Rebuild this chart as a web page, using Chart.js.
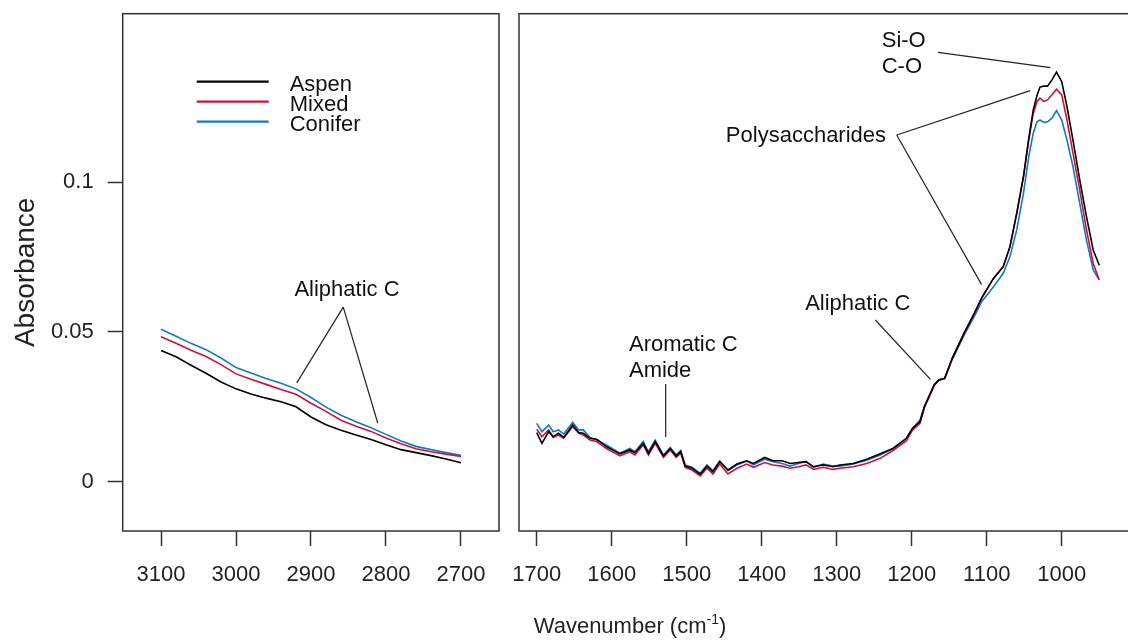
<!DOCTYPE html>
<html>
<head>
<meta charset="utf-8">
<script src="https://cdn.jsdelivr.net/npm/chart.js@4.4.1/dist/chart.umd.min.js"></script>
<style>
  html, body { margin: 0; padding: 0; background: #fff; overflow: hidden; }
  body { width: 1128px; height: 641px; position: relative; font-family: "Liberation Sans", Arial, sans-serif; }
  #wrapL { position: absolute; left: 0; top: 0; width: 508px; height: 641px; }
  #wrapR { position: absolute; left: 508px; top: 0; width: 640px; height: 641px; }
  #xtitle { position: absolute; left: 430px; top: 612px; width: 400px; text-align: center;
            font-size: 22px; line-height: 28px; color: #222; }
  #xtitle sup { font-size: 14px; line-height: 0; vertical-align: 9px; }
</style>
</head>
<body>
<div id="wrapL"><canvas id="chart-left" width="508" height="641"></canvas></div>
<div id="wrapR"><canvas id="chart-right" width="640" height="641"></canvas></div>
<div id="xtitle">Wavenumber (cm<sup>-1</sup>)</div>
<script>
// ---- data ----
const seriesNames = ['Aspen', 'Mixed', 'Conifer'];
const seriesColors = ['#000000', '#d0103a', '#1479be'];

const leftWn = [3100, 3080, 3060, 3040, 3020, 3000, 2980, 2960, 2940, 2920, 2900,
  2880, 2860, 2840, 2820, 2800, 2780, 2760, 2740, 2720, 2700];
const leftAspen = [.0438, .0417, .0389, .0362, .0333, .0310, .0293, .0279, .0267, .0250, .0216,
  .0190, .0172, .0156, .0141, .0123, .0107, .0097, .0087, .0076, .0063];
const leftMixed = [.0484, .0462, .0439, .0418, .0391, .0360, .0342, .0325, .0308, .0292, .0262,
  .0235, .0205, .0185, .0168, .0146, .0127, .0110, .0100, .0092, .0084];
const leftConifer = [.0509, .0486, .0462, .0441, .0413, .0381, .0363, .0345, .0329, .0310, .0281,
  .0249, .0222, .0200, .0180, .0158, .0136, .0118, .0107, .0097, .0088];

const rightWn = [1700, 1693, 1684, 1678, 1671, 1664, 1652, 1644, 1638, 1629, 1620, 1607, 1589,
  1576, 1569, 1558, 1551, 1542, 1531, 1522, 1514, 1508, 1502, 1493, 1482, 1473, 1465, 1456,
  1445, 1433, 1420, 1411, 1396, 1385, 1373, 1362, 1351, 1341, 1331, 1318, 1305, 1296, 1278,
  1260, 1242, 1225, 1207, 1199, 1189, 1183, 1170, 1164, 1156, 1146, 1130, 1116, 1107, 1091,
  1078, 1069, 1060, 1051, 1044, 1038, 1033, 1029, 1024, 1019, 1013, 1007, 1000, 993, 985,
  976, 967, 958, 950];
const rightAspen = [.0164, .0128, .0167, .0150, .0162, .0148, .0189, .0164, .0162, .0145, .0142, .0117, .0093,
  .0106, .0097, .0128, .0095, .0134, .0086, .0111, .0086, .0101, .0052, .0045, .0025, .0052, .0033, .0067,
  .0039, .0059, .0070, .0061, .0081, .0070, .0070, .0061, .0064, .0067, .0050, .0056, .0050, .0056, .0061,
  .0075, .0093, .0111, .0145, .0178, .0200, .0251, .0323, .0340, .0345, .0412, .0496, .0565, .0612, .0679,
  .0718, .0785, .0896, .1019, .1145, .1241, .1290, .1318, .1321, .1321, .1342, .1368, .1336, .1253, .1141,
  .1008, .0885, .0774, .0723];
const rightMixed = [.0175, .0150, .0173, .0148, .0156, .0145, .0184, .0162, .0156, .0139, .0134, .0111, .0086,
  .0100, .0089, .0123, .0089, .0128, .0081, .0106, .0081, .0095, .0048, .0039, .0019, .0045, .0026, .0059,
  .0026, .0045, .0059, .0048, .0064, .0056, .0052, .0045, .0050, .0056, .0041, .0048, .0041, .0045, .0050,
  .0061, .0078, .0104, .0137, .0172, .0195, .0248, .0321, .0338, .0345, .0412, .0498, .0565, .0612, .0679,
  .0718, .0785, .0896, .1019, .1141, .1230, .1269, .1281, .1270, .1275, .1292, .1311, .1292, .1208, .1097,
  .0974, .0841, .0729, .0674];
const rightConifer = [.0195, .0167, .0189, .0167, .0173, .0159, .0198, .0173, .0173, .0148, .0139, .0123, .0095,
  .0111, .0100, .0134, .0100, .0139, .0089, .0114, .0089, .0104, .0056, .0048, .0028, .0056, .0037, .0069,
  .0037, .0056, .0069, .0056, .0075, .0067, .0061, .0052, .0061, .0067, .0048, .0059, .0052, .0052, .0059,
  .0072, .0089, .0111, .0145, .0178, .0206, .0252, .0325, .0340, .0345, .0408, .0490, .0555, .0600, .0651,
  .0696, .0752, .0841, .0963, .1085, .1164, .1202, .1208, .1200, .1202, .1214, .1239, .1208, .1141, .1052,
  .0930, .0807, .0707, .0674];

const leftTicks = [3100, 3000, 2900, 2800, 2700];
const rightTicks = [1700, 1600, 1500, 1400, 1300, 1200, 1100, 1000];
const yTicks = [0, 0.05, 0.1];
const yTickLabels = ['0', '0.05', '0.1'];

// ---- annotations (data coordinates) ----
const leftNotes = {
  texts: [{ text: 'Aliphatic C', x: 2852, y: 0.064, align: 'center' }],
  lines: [[2857, 0.0583, 2919, 0.033], [2857, 0.0583, 2811, 0.0196]],
};
const rightNotes = {
  texts: [
    { text: 'Si-O', x: 1240, y: 0.1473, align: 'left' },
    { text: 'C-O', x: 1240, y: 0.1384, align: 'left' },
    { text: 'Polysaccharides', x: 1341, y: 0.1155, align: 'center' },
    { text: 'Aliphatic C', x: 1272, y: 0.0594, align: 'center' },
    { text: 'Aromatic C', x: 1577, y: 0.0457, align: 'left' },
    { text: 'Amide', x: 1577, y: 0.037, align: 'left' },
  ],
  lines: [
    [1165, 0.1434, 1015, 0.1383],
    [1220, 0.1158, 1042, 0.1306],
    [1220, 0.1158, 1107, 0.0659],
    [1248.5, 0.054, 1175, 0.0342],
    [1528, 0.0326, 1528, 0.0149],
  ],
};

const FONT = '"Liberation Sans", Arial, sans-serif';
Chart.defaults.font.family = FONT;
Chart.defaults.color = '#222';

function toPoints(xs, ys) {
  return xs.map((x, i) => ({ x, y: ys[i] }));
}

function makeDatasets(xs, cols) {
  return cols.map((ys, i) => ({
    label: seriesNames[i],
    data: toPoints(xs, ys),
    borderColor: seriesColors[i],
    borderWidth: 1.6,
    pointRadius: 0,
    tension: 0,
  }));
}

// box around plot area, notes, and the R-style legend
const overlay = {
  id: 'overlay',
  afterDraw(chart, args, opts) {
    const { ctx, chartArea: a, scales } = chart;
    ctx.save();
    ctx.strokeStyle = '#333';
    ctx.lineWidth = 1.5;
    ctx.strokeRect(a.left, a.top, a.right - a.left, a.bottom - a.top);

    ctx.strokeStyle = '#222';
    ctx.lineWidth = 1.2;
    (opts.lines || []).forEach(([x1, y1, x2, y2]) => {
      ctx.beginPath();
      ctx.moveTo(scales.x.getPixelForValue(x1), scales.y.getPixelForValue(y1));
      ctx.lineTo(scales.x.getPixelForValue(x2), scales.y.getPixelForValue(y2));
      ctx.stroke();
    });

    ctx.fillStyle = '#111';
    ctx.font = '22px ' + FONT;
    ctx.textBaseline = 'middle';
    (opts.texts || []).forEach((t) => {
      ctx.textAlign = t.align;
      ctx.fillText(t.text, scales.x.getPixelForValue(t.x), scales.y.getPixelForValue(t.y));
    });

    if (opts.legend) {
      const x0 = a.left + 74, y0 = a.top + 68;
      chart.data.datasets.forEach((ds, i) => {
        const y = y0 + i * 20;
        ctx.strokeStyle = ds.borderColor;
        ctx.lineWidth = 2.2;
        ctx.beginPath();
        ctx.moveTo(x0, y);
        ctx.lineTo(x0 + 72, y);
        ctx.stroke();
        ctx.fillStyle = '#111';
        ctx.textAlign = 'left';
        ctx.fillText(ds.label, x0 + 93, y + 3);
      });
    }
    ctx.restore();
  },
};

const tickGrid = { drawOnChartArea: false, drawTicks: true, tickLength: 15, tickWidth: 1.5, tickColor: '#333' };
const tickFont = { size: 22, family: FONT };

function xScale(min, max, ticks) {
  return {
    type: 'linear', reverse: true, min, max,
    afterBuildTicks: (s) => { s.ticks = ticks.map((v) => ({ value: v })); },
    afterFit: (s) => { s.height = 110; s.paddingLeft = 0; s.paddingRight = 0; },
    grid: tickGrid,
    border: { display: false },
    ticks: { font: tickFont, color: '#222', padding: 16, maxRotation: 0, autoSkip: false,
      callback: (v) => String(v) },
  };
}

const yMin = -0.01647, yMax = 0.1563;

new Chart(document.getElementById('chart-left'), {
  type: 'line',
  data: { datasets: makeDatasets(leftWn, [leftAspen, leftMixed, leftConifer]) },
  plugins: [overlay],
  options: {
    responsive: false,
    animation: false,
    layout: { padding: { left: 0, right: 9, top: 13.7, bottom: 0 } },
    plugins: {
      legend: { display: false },
      tooltip: { enabled: false },
      overlay: { ...leftNotes, legend: true },
    },
    scales: {
      x: xScale(2649.3, 3151.1, leftTicks),
      y: {
        min: yMin, max: yMax,
        afterBuildTicks: (s) => { s.ticks = yTicks.map((v) => ({ value: v })); },
        afterFit: (s) => { s.width = 122.7; s.paddingTop = 0; s.paddingBottom = 0; },
        grid: tickGrid,
        border: { display: false },
        ticks: { font: tickFont, color: '#222', padding: 14,
          callback: (v) => yTickLabels[yTicks.indexOf(v)] },
        title: { display: true, text: 'Absorbance', color: '#222',
          font: { size: 28, family: FONT }, padding: { top: 9, bottom: 0 } },
      },
    },
  },
});

new Chart(document.getElementById('chart-right'), {
  type: 'line',
  data: { datasets: makeDatasets(rightWn, [rightAspen, rightMixed, rightConifer]) },
  plugins: [overlay],
  options: {
    responsive: false,
    animation: false,
    layout: { padding: { left: 11, right: 10, top: 13.7, bottom: 0 } },
    plugins: {
      legend: { display: false },
      tooltip: { enabled: false },
      overlay: { ...rightNotes, legend: false },
    },
    scales: {
      x: xScale(898.3, 1723.6, rightTicks),
      y: { display: false, min: yMin, max: yMax },
    },
  },
});
</script>
</body>
</html>
